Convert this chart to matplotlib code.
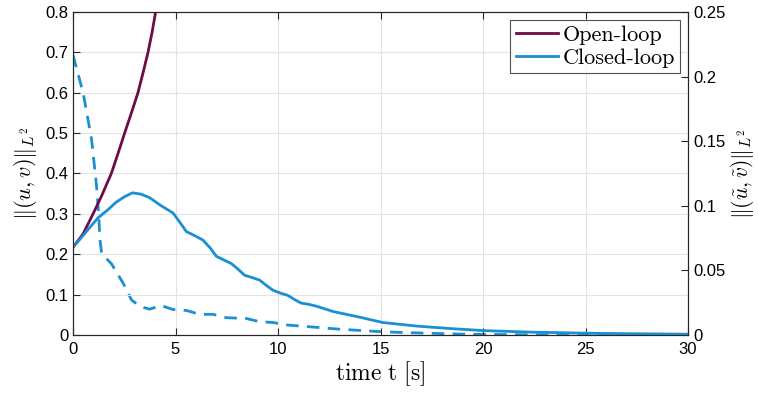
import matplotlib
matplotlib.use("Agg")
import matplotlib.pyplot as plt

plt.rcParams['mathtext.fontset'] = 'cm'
plt.rcParams['font.family'] = ['Liberation Sans', 'DejaVu Sans']

# Open-loop norm (left axis)
t_open = [0.0, 0.49, 0.98, 1.4, 1.87, 2.2, 2.52, 2.85, 3.17, 3.42, 3.66, 3.86, 4.03]
y_open = [0.217, 0.25, 0.30, 0.345, 0.40, 0.45, 0.50, 0.55, 0.60, 0.65, 0.70, 0.75, 0.80]

# Closed-loop norm (left axis, solid)
t_closed = [0.0, 0.6, 1.22, 1.7, 2.11, 2.5, 2.9, 3.3, 3.74, 4.24, 4.88, 5.2, 5.53,
            5.9, 6.34, 6.7, 6.99, 7.35, 7.72, 8.05, 8.37, 8.75, 9.1, 9.4, 9.75,
            10.1, 10.48, 10.8, 11.13, 11.5, 11.9, 12.7, 14.0, 15.1, 16.8, 18.4,
            20.0, 22.4, 25.7, 30.0]
y_closed = [0.217, 0.253, 0.29, 0.31, 0.329, 0.342, 0.352, 0.349, 0.34, 0.322,
            0.302, 0.28, 0.256, 0.247, 0.235, 0.215, 0.195, 0.186, 0.177, 0.163,
            0.148, 0.142, 0.136, 0.124, 0.111, 0.104, 0.098, 0.088, 0.079, 0.076,
            0.071, 0.058, 0.044, 0.031, 0.022, 0.016, 0.011, 0.007, 0.004, 0.002]

# Closed-loop tilde norm (right axis, dashed)
t_dash = [0.0, 0.5, 0.91, 1.15, 1.25, 1.32, 1.4, 1.88, 2.45, 2.86, 3.3, 3.74,
          4.3, 4.88, 5.53, 6.18, 6.83, 7.48, 8.45, 9.1, 9.75, 10.4, 11.36, 13.0,
          15.1, 17.0, 19.2, 22.0, 30.0]
y_dash = [0.2166, 0.187, 0.151, 0.115, 0.094, 0.073, 0.063, 0.055, 0.040, 0.027,
          0.022, 0.020, 0.0228, 0.0197, 0.019, 0.016, 0.016, 0.0134, 0.0128, 0.0103,
          0.0097, 0.0078, 0.0066, 0.0045, 0.0025, 0.0015, 0.0006, 0.0002, 0.0]

x_ticks = [0, 5, 10, 15, 20, 25, 30]
y_left_ticks = [0, 0.1, 0.2, 0.3, 0.4, 0.5, 0.6, 0.7, 0.8]
y_left_labels = ['0', '0.1', '0.2', '0.3', '0.4', '0.5', '0.6', '0.7', '0.8']
y_right_ticks = [0, 0.05, 0.1, 0.15, 0.2, 0.25]
y_right_labels = ['0', '0.05', '0.1', '0.15', '0.2', '0.25']

purple = '#6E0B48'
blue = '#1A8FD3'

fig = plt.figure(figsize=(7.58, 3.96), dpi=100)
ax = fig.add_axes([0.0963, 0.154, 0.8114, 0.816])
ax2 = ax.twinx()

l1, = ax.plot(t_open, y_open, color=purple, lw=2, label='Open-loop')
l2, = ax.plot(t_closed, y_closed, color=blue, lw=2, label='Closed-loop')
ax2.plot(t_dash, y_dash, color=blue, lw=2, ls=(0, (4.5, 3)))

ax.set_xlim(0, 30)
ax.set_ylim(0, 0.8)
ax2.set_ylim(0, 0.25)
ax.set_xticks(x_ticks)
ax.set_xticklabels([str(v) for v in x_ticks])
ax.set_yticks(y_left_ticks)
ax.set_yticklabels(y_left_labels)
ax2.set_yticks(y_right_ticks)
ax2.set_yticklabels(y_right_labels)

ax.grid(True, color='#e3e3e3', lw=0.8)
ax.set_axisbelow(True)
for a in (ax, ax2):
    a.tick_params(direction='in', labelsize=12, length=5, width=0.8, colors='#262626',
                  labelcolor='black')
    for s in a.spines.values():
        s.set_color('#262626')
        s.set_linewidth(0.8)
ax.tick_params(top=True)
ax.tick_params(axis='x', pad=5)

ax.set_xlabel(r'$\mathrm{time\ t\ [s]}$', fontsize=17, labelpad=2)
ax.set_ylabel(r'$\|(u,v)\|_{L^2}$', fontsize=16)
ax.yaxis.set_label_coords(-0.056, 0.5)
ax2.set_ylabel(r'$\|(\tilde{u},\tilde{v})\|_{L^2}$', fontsize=15.5)
ax2.yaxis.set_label_coords(1.066, 0.5)

leg = ax.legend(handles=[l1, l2], loc='upper right', prop={'family': 'cmr10', 'size': 16},
                frameon=True, fancybox=False, edgecolor='#262626', borderpad=0.25,
                handlelength=1.9, handletextpad=0.2, labelspacing=0.15,
                borderaxespad=0.35)
leg.get_frame().set_linewidth(0.8)
ax.set_zorder(ax2.get_zorder() + 1)
ax.patch.set_visible(False)

fig.savefig('out.png', dpi=100)
